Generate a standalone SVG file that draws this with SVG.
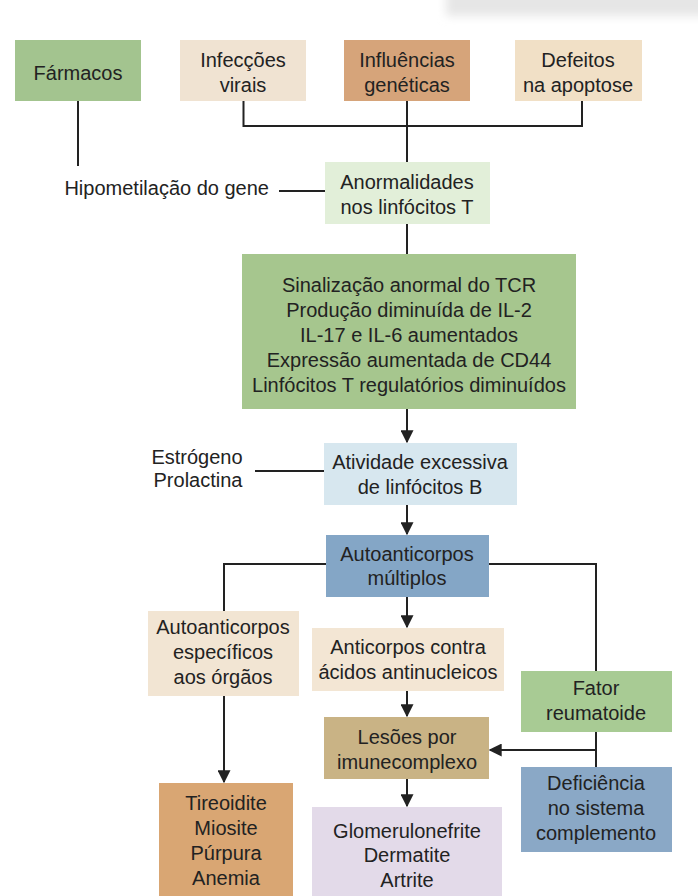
<svg xmlns="http://www.w3.org/2000/svg" width="698" height="896" viewBox="0 0 698 896">
<style>
text{font-family:"Liberation Sans",Arial,sans-serif;font-size:20px;fill:#222;text-anchor:middle}
.ln{stroke:#222;stroke-width:2;fill:none}
.ar{stroke:#222;stroke-width:2;fill:none;marker-end:url(#ah)}
</style>
<defs>
<marker id="ah" viewBox="0 0 10 10" refX="9" refY="5" markerWidth="6.5" markerHeight="6.5" orient="auto" markerUnits="strokeWidth">
<path d="M0,0L10,5L0,10z" fill="#222"/>
</marker>
<filter id="bl" x="-20%" y="-100%" width="140%" height="300%"><feGaussianBlur stdDeviation="5"/></filter>
</defs>
<rect width="698" height="896" fill="#fff"/>
<rect x="446" y="-20" width="280" height="36" fill="#e6e6e6" filter="url(#bl)"/>

<g id="farmacos"><rect x="15" y="40" width="126" height="61" fill="#a3c48f"/><text x="78" y="80">Fármacos</text></g>
<g id="infeccoes"><rect x="180" y="40" width="126" height="61" fill="#f0e3d2"/><text x="243" y="67">Infecções</text><text x="243" y="92">virais</text></g>
<g id="influencias"><rect x="344" y="40" width="126" height="61" fill="#d6a47a"/><text x="407" y="67">Influências</text><text x="407" y="92">genéticas</text></g>
<g id="defeitos"><rect x="515" y="40" width="127" height="61" fill="#f1e0c6"/><text x="578" y="67">Defeitos</text><text x="578" y="92">na apoptose</text></g>
<g id="hipometilacao"><text x="269" y="195" style="text-anchor:end">Hipometilação do gene</text></g>
<g id="anormalidades"><rect x="325" y="162" width="165" height="62" fill="#e2efd9"/><text x="407" y="189">Anormalidades</text><text x="407" y="214">nos linfócitos T</text></g>
<g id="sinalizacao"><rect x="242" y="254" width="334" height="155" fill="#a6c68e"/>
<text x="409" y="292">Sinalização anormal do TCR</text>
<text x="409" y="317">Produção diminuída de IL-2</text>
<text x="409" y="342">IL-17 e IL-6 aumentados</text>
<text x="409" y="367">Expressão aumentada de CD44</text>
<text x="409" y="392">Linfócitos T regulatórios diminuídos</text></g>
<g id="estrogeno"><text x="197" y="464">Estrógeno</text><text x="198" y="487">Prolactina</text></g>
<g id="atividade"><rect x="324" y="443" width="193" height="62" fill="#d7e7ef"/><text x="420" y="469">Atividade excessiva</text><text x="420" y="494">de linfócitos B</text></g>
<g id="multiplos"><rect x="326" y="535" width="163" height="62" fill="#84a6c6"/><text x="407" y="561">Autoanticorpos</text><text x="407" y="585">múltiplos</text></g>
<g id="especificos"><rect x="148" y="611" width="151" height="85" fill="#f2e5d3"/><text x="223" y="634">Autoanticorpos</text><text x="223" y="659">específicos</text><text x="223" y="684">aos órgãos</text></g>
<g id="anticorpos"><rect x="312" y="628" width="192" height="63" fill="#f3e6d4"/><text x="408" y="654">Anticorpos contra</text><text x="408" y="679">ácidos antinucleicos</text></g>
<g id="fator"><rect x="521" y="671" width="151" height="61" fill="#a8cb94"/><text x="596" y="695">Fator</text><text x="596" y="720">reumatoide</text></g>
<g id="lesoes"><rect x="324" y="717" width="165" height="62" fill="#c9b385"/><text x="407" y="744">Lesões por</text><text x="407" y="769">imunecomplexo</text></g>
<g id="deficiencia"><rect x="521" y="767" width="151" height="85" fill="#8aa8c6"/><text x="596" y="790">Deficiência</text><text x="596" y="815">no sistema</text><text x="596" y="840">complemento</text></g>
<g id="tireoidite"><rect x="159" y="783" width="134" height="120" fill="#d9a673"/><text x="226" y="810">Tireoidite</text><text x="226" y="835">Miosite</text><text x="226" y="860">Púrpura</text><text x="226" y="885">Anemia</text></g>
<g id="glomerulo"><rect x="312" y="807" width="190" height="100" fill="#e3dae9"/><text x="407" y="838">Glomerulonefrite</text><text x="407" y="862">Dermatite</text><text x="407" y="887">Artrite</text></g>

<g id="connectors">
<path class="ln" d="M78,101V166"/>
<path class="ln" d="M279,191H325"/>
<path class="ln" d="M243.5,101V126H582V101"/>
<path class="ln" d="M407,101V162"/>
<path class="ln" d="M407,224V254"/>
<path class="ar" d="M407,409V442"/>
<path class="ln" d="M255,471H324"/>
<path class="ar" d="M407,505V534"/>
<path class="ln" d="M326,564H224V611"/>
<path class="ln" d="M489,564H596V671"/>
<path class="ar" d="M407,597V627"/>
<path class="ar" d="M407,691V716"/>
<path class="ar" d="M224,696V782"/>
<path class="ln" d="M596,732V767"/>
<path class="ar" d="M596,750H490"/>
<path class="ar" d="M407,779V806"/>
</g>
</svg>
